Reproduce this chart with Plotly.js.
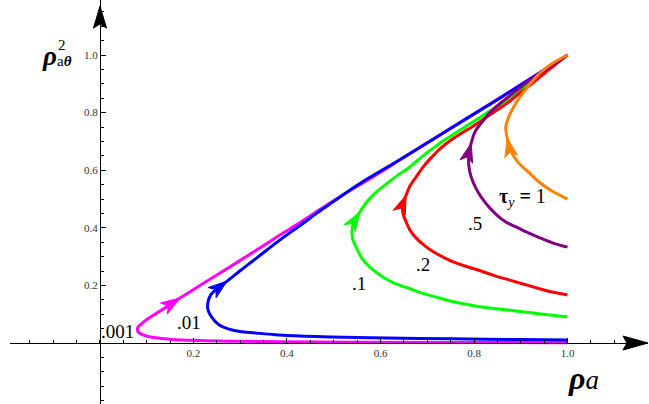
<!DOCTYPE html>
<html>
<head>
<meta charset="utf-8">
<script src="https://cdn.plot.ly/plotly-3.0.1.min.js"></script>
<style>html,body{margin:0;padding:0;background:#fff}</style>
</head>
<body>
<div id="graph" style="width:649px;height:404px"></div>
<script>
// tau_y values and their colours (magenta, blue, green, red, purple, orange)
var tauLabels = ['.001', '.01', '.1', '.2', '.5', '1'];
var curveColors = ['#ff00ff', '#0000ff', '#00ff00', '#ff0000', '#800080', '#ff8000'];

// each curve starts at rho_a = 1, bends left, then climbs back to (1, 1)
var tau001X = [1.0, 0.749, 0.535, 0.385, 0.285, 0.225, 0.178, 0.139, 0.111, 0.092, 0.081, 0.081, 0.090, 0.103, 0.120, 0.145,
               0.171, 0.214, 0.257, 0.299, 0.342, 0.385, 0.428, 0.471, 0.513, 0.578, 0.642, 0.749, 0.856, 1.0];
var tau001Y = [0.001, 0.002, 0.003, 0.004, 0.006, 0.008, 0.010, 0.015, 0.020, 0.028, 0.040, 0.054, 0.068, 0.085, 0.102, 0.128,
               0.156, 0.200, 0.243, 0.286, 0.330, 0.375, 0.418, 0.464, 0.508, 0.571, 0.636, 0.745, 0.852, 1.0];

var tau01X = [1.0, 0.898, 0.791, 0.684, 0.578, 0.492, 0.428, 0.374, 0.332, 0.299, 0.274, 0.255, 0.240, 0.231, 0.231, 0.237, 0.252,
              0.272, 0.299, 0.327, 0.357, 0.391, 0.428, 0.464, 0.501, 0.556, 0.642, 0.749, 0.856, 1.0];
var tau01Y = [0.010, 0.012, 0.0135, 0.016, 0.018, 0.021, 0.024, 0.029, 0.035, 0.040, 0.049, 0.0625, 0.087, 0.115, 0.142, 0.167, 0.191,
              0.215, 0.250, 0.285, 0.323, 0.365, 0.408, 0.451, 0.493, 0.554, 0.637, 0.744, 0.851, 1.0];

var tau1X = [1.0, 0.963, 0.926, 0.890, 0.853, 0.817, 0.783, 0.749, 0.717, 0.687, 0.659, 0.633, 0.612, 0.593, 0.575, 0.560, 0.550, 0.541, 0.539, 0.543,
             0.556, 0.569, 0.582, 0.599, 0.618, 0.637, 0.657, 0.678, 0.699, 0.719, 0.740, 0.764, 0.787, 0.811, 0.834, 0.858, 0.881, 0.905, 0.928, 0.952, 0.975, 1.0];
var tau1Y = [0.090, 0.097, 0.104, 0.111, 0.118, 0.125, 0.135, 0.146, 0.160, 0.174, 0.191, 0.205, 0.222, 0.243, 0.267, 0.295, 0.326, 0.358, 0.389, 0.420,
             0.455, 0.486, 0.510, 0.535, 0.559, 0.583, 0.604, 0.632, 0.660, 0.684, 0.708, 0.733, 0.757, 0.781, 0.806, 0.830, 0.858, 0.885, 0.913, 0.944, 0.972, 1.0];

var tau2X = [1.0, 0.967, 0.935, 0.905, 0.875, 0.845, 0.815, 0.787, 0.761, 0.738, 0.714, 0.693, 0.676, 0.663, 0.655, 0.648, 0.648,
             0.655, 0.663, 0.676, 0.693, 0.710, 0.729, 0.751, 0.774, 0.798, 0.824, 0.847, 0.871, 0.898, 0.926, 0.954, 0.978, 1.0];
var tau2Y = [0.167, 0.177, 0.191, 0.205, 0.219, 0.233, 0.250, 0.264, 0.278, 0.295, 0.316, 0.340, 0.365, 0.392, 0.420, 0.451, 0.483,
             0.514, 0.545, 0.576, 0.615, 0.646, 0.677, 0.705, 0.729, 0.753, 0.781, 0.806, 0.833, 0.868, 0.903, 0.941, 0.972, 1.0];

var tau5X = [1.0, 0.969, 0.941, 0.913, 0.890, 0.868, 0.849, 0.832, 0.817, 0.804, 0.794, 0.789, 0.789,
             0.794, 0.802, 0.819, 0.838, 0.862, 0.892, 0.920, 0.952, 1.0];
var tau5Y = [0.333, 0.347, 0.365, 0.385, 0.403, 0.420, 0.444, 0.472, 0.503, 0.538, 0.576, 0.615, 0.653,
             0.694, 0.733, 0.771, 0.806, 0.840, 0.878, 0.913, 0.948, 1.0];

var tau10X = [1.0, 0.967, 0.939, 0.916, 0.894, 0.879, 0.871, 0.868, 0.875, 0.886, 0.898, 0.918, 0.941, 0.969, 1.0];
var tau10Y = [0.500, 0.528, 0.559, 0.594, 0.628, 0.667, 0.712, 0.750, 0.788, 0.823, 0.854, 0.896, 0.9375, 0.972, 1.0];

// index of the point where each curve carries its direction arrow
var arrowIndex = [16, 17, 20, 17, 13, 6];

var curvesX = [tau001X, tau01X, tau1X, tau2X, tau5X, tau10X];
var curvesY = [tau001Y, tau01Y, tau1Y, tau2Y, tau5Y, tau10Y];

var W = 649, H = 404;
var margin = {l: 10, r: 1, t: 0, b: 0};
var xRange = [-0.1925, 1.1722];
var yRange = [-0.2118, 1.191];
var pxX = (W - margin.l - margin.r) / (xRange[1] - xRange[0]);
var pxY = (H - margin.t - margin.b) / (yRange[1] - yRange[0]);

// arrowhead path in pixels, tip at the anchor, pointing along (dx, dy) with y up
function arrowPath(dx, dy, len, wid, notch, offX, offY){
    var a = Math.atan2(dy, dx);
    var c = Math.cos(a), s = Math.sin(a);
    var pts = [[0, 0], [-len, wid / 2], [-len + notch, 0], [-len, -wid / 2]];
    var d = '';
    for (var i = 0; i < pts.length; i++){
        var u = pts[i][0], v = pts[i][1];
        var px = u * c - v * s + (offX || 0);
        var py = u * s + v * c + (offY || 0);
        d += (i === 0 ? 'M' : 'L') + px.toFixed(2) + ',' + py.toFixed(2);
    }
    return d + 'Z';
}

var traces = [];
var shapes = [];
for (var k = 0; k < curvesX.length; k++){
    traces.push({
        x: curvesX[k],
        y: curvesY[k],
        mode: 'lines',
        line: {color: curveColors[k], width: 3, shape: 'spline', smoothing: 1},
        hoverinfo: 'skip',
        showlegend: false
    });
    var i = arrowIndex[k];
    var dx = (curvesX[k][i + 1] - curvesX[k][i - 1]) * pxX;
    var dy = (curvesY[k][i + 1] - curvesY[k][i - 1]) * pxY;
    shapes.push({
        type: 'path', xref: 'x', yref: 'y',
        xsizemode: 'pixel', ysizemode: 'pixel',
        xanchor: curvesX[k][i], yanchor: curvesY[k][i],
        path: arrowPath(dx, dy, 19, 13, 5),
        fillcolor: curveColors[k],
        line: {color: curveColors[k], width: 1}
    });
}

// axis arrowheads
shapes.push({
    type: 'path', xref: 'x', yref: 'y', xsizemode: 'pixel', ysizemode: 'pixel',
    xanchor: xRange[1], yanchor: 0,
    path: arrowPath(1, 0, 25, 14, 4, 0, 0),
    fillcolor: 'black', line: {color: 'black', width: 1}
});
shapes.push({
    type: 'path', xref: 'x', yref: 'y', xsizemode: 'pixel', ysizemode: 'pixel',
    xanchor: 0, yanchor: yRange[1],
    path: arrowPath(0, 1, 22, 13, 4, 0, -6),
    fillcolor: 'black', line: {color: 'black', width: 1}
});

var serif = 'Liberation Serif';

var annotations = [
    {text: tauLabels[0], x: 0.037, y: 0.040, size: 19},
    {text: tauLabels[1], x: 0.191, y: 0.071, size: 19},
    {text: tauLabels[2], x: 0.554, y: 0.205, size: 19},
    {text: tauLabels[3], x: 0.690, y: 0.272, size: 19},
    {text: tauLabels[4], x: 0.802, y: 0.415, size: 19},
    {text: '<b>τ</b><sub><i>y</i></sub><b> = </b>' + tauLabels[5], x: 0.903, y: 0.505, size: 20},
    {text: '<b><i>ρ</i></b>', x: -0.107, y: 0.995, size: 27},
    {text: '2', x: -0.081, y: 1.035, size: 15},
    {text: 'a<b><i>θ</i></b>', x: -0.076, y: 0.978, size: 15},
    {text: '<b><i>ρ</i></b><i><span style="font-size:27px">a</span></i>', x: 1.035, y: -0.122, size: 32}
].map(function(a){
    return {text: a.text, x: a.x, y: a.y, xref: 'x', yref: 'y', showarrow: false,
            font: {family: serif, size: a.size, color: 'black'}};
});

var tickFont = {family: serif, size: 11, color: '#333'};

var layout = {
    width: W,
    height: H,
    margin: margin,
    paper_bgcolor: 'white',
    plot_bgcolor: 'white',
    xaxis: {
        range: xRange,
        anchor: 'free',
        position: (0 - yRange[0]) / (yRange[1] - yRange[0]),
        showgrid: false, zeroline: false,
        showline: true, linecolor: 'black', linewidth: 1,
        ticks: 'inside', ticklen: 5, tickcolor: 'black', tickwidth: 1,
        tickmode: 'array',
        tickvals: [0.2, 0.4, 0.6, 0.8, 1.0],
        ticktext: ['0.2', '0.4', '0.6', '0.8', '1.0'],
        tickfont: tickFont,
        minor: {tickmode: 'linear', tick0: 0, dtick: 0.05, ticks: 'inside', ticklen: 3, tickcolor: 'black', showgrid: false}
    },
    yaxis: {
        range: yRange,
        anchor: 'free',
        position: (0 - xRange[0]) / (xRange[1] - xRange[0]),
        showgrid: false, zeroline: false,
        showline: true, linecolor: 'black', linewidth: 1,
        ticks: 'inside', ticklen: 5, tickcolor: 'black', tickwidth: 1,
        tickmode: 'array',
        tickvals: [0.2, 0.4, 0.6, 0.8, 1.0],
        ticktext: ['0.2', '0.4', '0.6', '0.8', '1.0'],
        tickfont: tickFont,
        minor: {tickmode: 'linear', tick0: 0, dtick: 0.05, ticks: 'inside', ticklen: 3, tickcolor: 'black', showgrid: false}
    },
    shapes: shapes,
    annotations: annotations
};

Plotly.newPlot('graph', traces, layout, {staticPlot: true});
</script>
</body>
</html>
